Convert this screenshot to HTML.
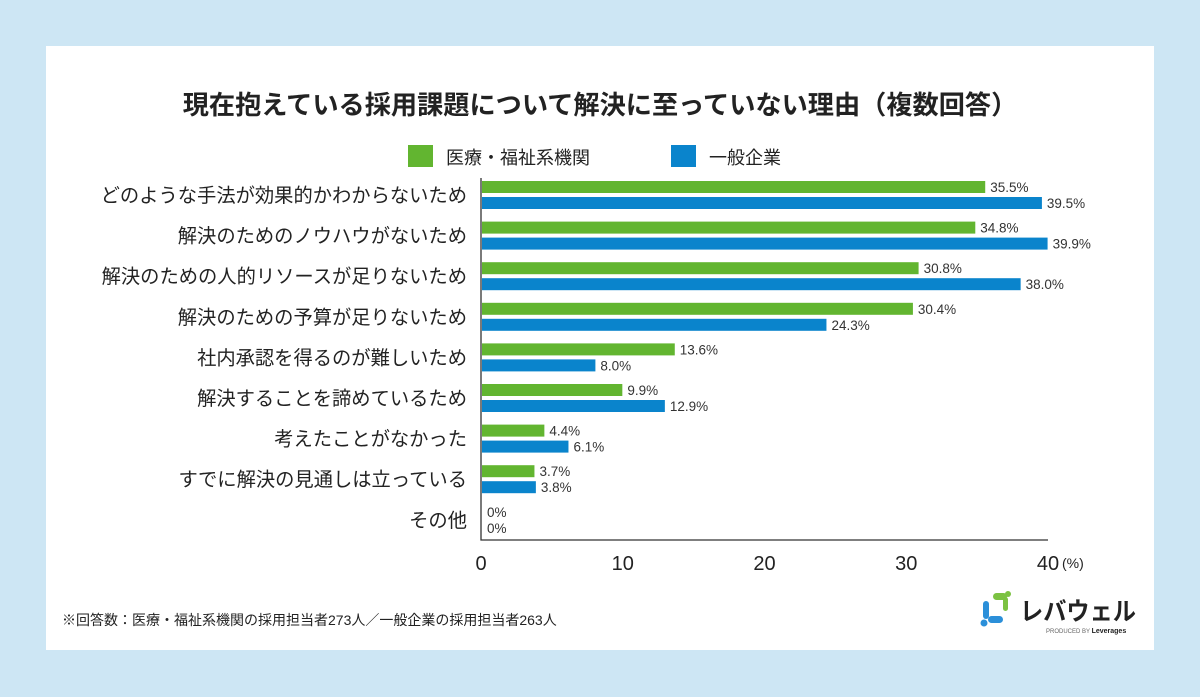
<!DOCTYPE html>
<html><head><meta charset="utf-8">
<style>
body{margin:0;width:1200px;height:697px;background:#cde6f4;font-family:"Liberation Sans","Noto Sans CJK JP",sans-serif;overflow:hidden}
#card{position:absolute;left:46px;top:46px;width:1108px;height:604px;background:#fff}
</style></head><body>
<div id="card"></div>
<svg width="1200" height="697" style="position:absolute;left:0;top:0">
<text x="600" y="114" text-anchor="middle" font-size="26.2" font-weight="bold" fill="#222">現在抱えている採用課題について解決に至っていない理由（複数回答）</text>
<g>
<rect x="408" y="145" width="25" height="22" fill="#62b530"/>
<text x="446" y="164" font-size="18" fill="#222">医療・福祉系機関</text>
<rect x="671" y="145" width="25" height="22" fill="#0a84cc"/>
<text x="709" y="164" font-size="18" fill="#222">一般企業</text>
</g>
<g id="plot"></g>
<text x="62" y="625" font-size="14" fill="#222">※回答数：医療・福祉系機関の採用担当者273人／一般企業の採用担当者263人</text>
<g>
<rect x="993" y="593" width="14" height="7" rx="3.5" fill="#7cc242"/>
<rect x="1003" y="597" width="5" height="14" rx="2.5" fill="#7cc242"/>
<rect x="983" y="601" width="6" height="18" rx="3" fill="#2b8fd9"/>
<rect x="988" y="616" width="15" height="7" rx="3.5" fill="#2b8fd9"/>
<circle cx="984" cy="623" r="3.5" fill="#2b8fd9"/>
<circle cx="1008" cy="594" r="3" fill="#7cc242"/>
<text x="1020" y="620" font-size="25" font-weight="bold" fill="#222" textLength="116" lengthAdjust="spacingAndGlyphs">レバウェル</text>
<text x="1046" y="633" font-size="6" fill="#666">PRODUCED BY <tspan font-weight="bold" fill="#222" font-size="7">Leverages</tspan></text>
</g>
</svg>
<script>
const categories=["どのような手法が効果的かわからないため","解決のためのノウハウがないため","解決のための人的リソースが足りないため","解決のための予算が足りないため","社内承認を得るのが難しいため","解決することを諦めているため","考えたことがなかった","すでに解決の見通しは立っている","その他"];
const medical=[35.5,34.8,30.8,30.4,13.6,9.9,4.4,3.7,0];
const general=[39.5,39.9,38.0,24.3,8.0,12.9,6.1,3.8,0];
const ticks=[0,10,20,30,40];
const x0=481,x1=1048,maxV=40,top0=181,pitch=40.6;
const xs=v=>x0+(v/maxV)*(x1-x0);
const g=document.getElementById('plot');
const NS='http://www.w3.org/2000/svg';
function mk(t,a){const e=document.createElementNS(NS,t);for(const k in a)e.setAttribute(k,a[k]);g.appendChild(e);return e;}
categories.forEach((c,i)=>{
 const y=top0+i*pitch;
 const l=mk('text',{x:467,y:y+21,'text-anchor':'end','font-size':19.3,fill:'#222'});l.textContent=c;
 
 
 [[medical,'#62b530',0],[general,'#0a84cc',16]].forEach(([arr,col,off])=>{
  const v=arr[i];
  if(v>0){const r=mk('rect',{x:x0+1,y:y+off,width:xs(v)-x0,height:12,fill:col});
  
  }
  const t=mk('text',{x:(v>0?xs(v):x0)+6,y:y+off+11,'font-size':13.5,fill:'#333'});
  t.textContent=v>0?v.toFixed(1)+'%':'0%';
  
  
 });
});
const ax=mk('path',{d:`M${x0} 178V540H${x1}`,stroke:'#333','stroke-width':1.3,fill:'none'});


ticks.forEach(t=>{
 const e=mk('text',{x:xs(t),y:570,'text-anchor':'middle','font-size':20,fill:'#222'});e.textContent=t;
 
 
});
const u=mk('text',{x:1062,y:568,'font-size':14,fill:'#222'});u.textContent='(%)';


</script>
</body></html>
